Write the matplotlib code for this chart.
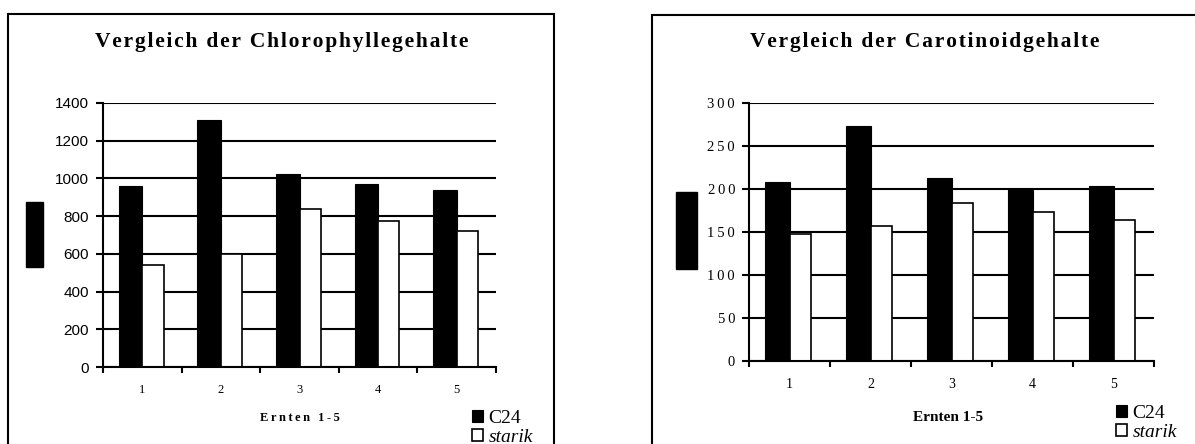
#!/usr/bin/env python3

import matplotlib
matplotlib.use('Agg')
import matplotlib.pyplot as plt
from matplotlib.patches import Rectangle

# Daten
ernten = ['1', '2', '3', '4', '5']
chl_c24 = [960, 1310, 1025, 970, 940]
chl_starik = [540, 600, 840, 775, 720]
car_c24 = [208, 273, 213, 200, 203]
car_starik = [148, 157, 184, 173, 164]
chl_ticks = [0, 200, 400, 600, 800, 1000, 1200, 1400]
car_ticks = [0, 50, 100, 150, 200, 250, 300]

W, H = 1195, 444
SERIF = ['Liberation Serif', 'DejaVu Serif']
SANS = 'Liberation Sans'


def fx(x):
    return x / W


def fy(y):
    return 1 - y / H


def spaced(s, sep='\u2009'):
    return sep.join(s)


def make_panel(fig, box, c24, starik, ticks, ymax, ylab_font, ylab_size,
               ylab_fmt, xlab_size):
    x0, x1, ytop, ybot = box
    ax = fig.add_axes([fx(x0), fy(ybot), fx(x1) - fx(x0), fy(ytop) - fy(ybot)])
    pos = range(len(ernten))
    b1 = ax.bar([p - 0.3 for p in pos], c24, width=0.3, align='edge',
                color='black', edgecolor='black', linewidth=0.8, label='C24', zorder=3)
    b2 = ax.bar(list(pos), starik, width=0.27, align='edge',
                color='white', edgecolor='black', linewidth=1.2, label='starik', zorder=3)
    ax.set_xlim(-0.5, len(ernten) - 0.5)
    ax.set_ylim(0, ymax)
    ax.set_yticks(ticks)
    ax.set_yticklabels([ylab_fmt(str(t)) for t in ticks], family=ylab_font,
                       size=ylab_size)
    ax.tick_params(axis='y', direction='out', length=5, width=1.5, pad=5)
    ax.set_xticks([p - 0.5 for p in range(len(ernten) + 1)])
    ax.set_xticklabels([])
    ax.set_xticks(list(pos), minor=True)
    ax.set_xticklabels(ernten, minor=True, family=SERIF, size=xlab_size)
    ax.tick_params(axis='x', which='major', direction='out', length=4, width=1.5)
    ax.tick_params(axis='x', which='minor', length=0, pad=12)
    ax.yaxis.grid(True, color='black', linewidth=1.5)
    ax.set_axisbelow(True)
    for s in ['top', 'right']:
        ax.spines[s].set_visible(False)
    for s in ['left', 'bottom']:
        ax.spines[s].set_linewidth(1.5)
        ax.spines[s].set_zorder(4)
    return ax, b1, b2


fig = plt.figure(figsize=(W / 100, H / 100), dpi=100)

# Rahmen der beiden Diagramme
fig.patches.append(Rectangle((fx(8), fy(480)), fx(554) - fx(8), fy(14) - fy(480),
                             transform=fig.transFigure, fill=False,
                             edgecolor='black', linewidth=1.5))
fig.patches.append(Rectangle((fx(652), fy(480)), fx(1210) - fx(652), fy(15) - fy(480),
                             transform=fig.transFigure, fill=False,
                             edgecolor='black', linewidth=1.5))

# Platzhalter der Achsentitel (schwarze Balken)
fig.patches.append(Rectangle((fx(26), fy(267)), fx(43) - fx(26), fy(202) - fy(267),
                             transform=fig.transFigure, color='black'))
fig.patches.append(Rectangle((fx(676), fy(269)), fx(697) - fx(676), fy(192) - fy(269),
                             transform=fig.transFigure, color='black'))

ax1, a1, a2 = make_panel(fig, (103, 496, 103, 367), chl_c24, chl_starik,
                         chl_ticks, 1400, SANS, 11, lambda s: s, 9)
ax2, c1, c2 = make_panel(fig, (749, 1154, 103, 361), car_c24, car_starik,
                         car_ticks, 300, SERIF, 10.5, spaced, 10)

fig.text(fx(282), fy(42), spaced('Vergleich der Chlorophyllegehalte', '\u200a'),
         family=SERIF, weight='bold', size=15.5, ha='center', va='center')
fig.text(fx(925), fy(42), spaced('Vergleich der Carotinoidgehalte', '\u200a'),
         family=SERIF, weight='bold', size=15.5, ha='center', va='center')

fig.text(fx(300), fy(418), spaced('Ernten 1-5'), family=SERIF, weight='bold',
         size=9, ha='center', va='center')
fig.text(fx(948), fy(417), 'Ernten 1-5', family=SERIF, weight='bold',
         size=11, ha='center', va='center')

for ax, bars, anchor in [(ax1, (a1, a2), (472, 410)), (ax2, (c1, c2), (1116, 405))]:
    leg = ax.legend(bars, ['C24', 'starik'], loc='upper left',
                    bbox_to_anchor=(fx(anchor[0]), fy(anchor[1])),
                    bbox_transform=fig.transFigure, frameon=False,
                    prop={'family': SERIF, 'size': 14}, handlelength=0.55,
                    handleheight=0.55, handletextpad=0.3, labelspacing=0.1,
                    borderpad=0, borderaxespad=0)
    leg.get_texts()[1].set_style('italic')

fig.savefig('out.png', dpi=100)
